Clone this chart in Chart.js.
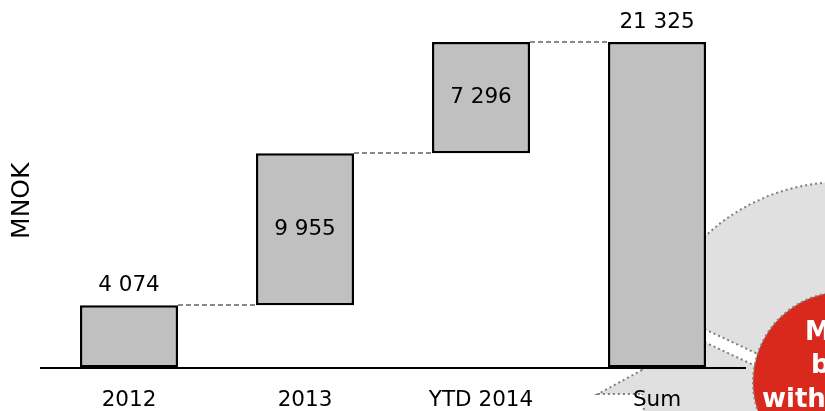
<!DOCTYPE html>
<html>
<head>
<meta charset="utf-8">
<script src="https://cdn.jsdelivr.net/npm/chart.js@4/dist/chart.umd.min.js"></script>
<style>
html, body { margin: 0; padding: 0; background: #fff; }
</style>
</head>
<body>
<canvas id="plot" width="825" height="411"></canvas>
<script>
const categories = ['2012', '2013', 'YTD 2014', 'Sum'];
const changes = [4074, 9955, 7296];
const total = 21325;
const badgeLines = ['More', 'booked', 'within'];

const FONT = '"DejaVu Sans", Verdana, sans-serif';

// 4 074 style thousands
function fmt(v) {
    return String(v).replace(/\B(?=(\d{3})+(?!\d))/g, ' ');
}

// floating [start, end] ranges for the waterfall
let running = 0;
const ranges = changes.map(v => {
    const r = [running, running + v];
    running += v;
    return r;
});
ranges.push([0, total]);
const values = changes.concat([total]);

function dotted(ctx) {
    ctx.strokeStyle = '#7f7f7f';
    ctx.lineWidth = 2;
    ctx.setLineDash([2, 3]);
}

const waterfallExtras = {
    id: 'waterfallExtras',
    beforeDraw(chart) {
        const ctx = chart.ctx;
        ctx.save();
        // grey halo behind the badge
        ctx.beginPath();
        ctx.arc(842, 382, 200, 0, Math.PI * 2);
        ctx.fillStyle = '#e0e0e0';
        ctx.fill();
        dotted(ctx);
        ctx.stroke();

        // pointer towards the Sum column
        ctx.setLineDash([]);
        ctx.beginPath();
        ctx.moveTo(598, 394);
        ctx.lineTo(690, 344);
        ctx.lineTo(690, 394);
        ctx.closePath();
        ctx.fillStyle = '#e0e0e0';
        ctx.fill();
        dotted(ctx);
        ctx.beginPath();
        ctx.moveTo(642, 370);
        ctx.lineTo(598, 394);
        ctx.lineTo(642, 394);
        ctx.stroke();

        // white band running into the badge
        ctx.setLineDash([]);
        ctx.beginPath();
        ctx.moveTo(700, 327);
        ctx.lineTo(762, 356);
        ctx.lineTo(760, 368);
        ctx.lineTo(700, 340);
        ctx.closePath();
        ctx.fillStyle = '#fff';
        ctx.fill();
        dotted(ctx);
        ctx.beginPath();
        ctx.moveTo(700, 327);
        ctx.lineTo(762, 356);
        ctx.moveTo(700, 340);
        ctx.lineTo(760, 368);
        ctx.stroke();

        // red badge
        ctx.setLineDash([]);
        ctx.beginPath();
        ctx.arc(843, 382, 90, 0, Math.PI * 2);
        ctx.fillStyle = '#d9291c';
        ctx.fill();
        dotted(ctx);
        ctx.stroke();

        ctx.setLineDash([]);
        ctx.fillStyle = '#fff';
        ctx.font = 'bold 26px ' + FONT;
        ctx.textAlign = 'left';
        ctx.textBaseline = 'alphabetic';
        const lx = [805, 811, 762];
        const ly = [340, 373, 407];
        badgeLines.forEach((t, i) => ctx.fillText(t, lx[i], ly[i]));
        ctx.restore();
    },
    afterDatasetsDraw(chart) {
        const ctx = chart.ctx;
        const meta = chart.getDatasetMeta(0);
        const yScale = chart.scales.y;
        ctx.save();

        // dashed connectors between the steps
        ctx.strokeStyle = '#8a8a8a';
        ctx.lineWidth = 2;
        ctx.setLineDash([5, 3]);
        for (let i = 0; i < meta.data.length - 1; i++) {
            const bar = meta.data[i];
            const next = meta.data[i + 1];
            const y = Math.round(yScale.getPixelForValue(ranges[i][1]));
            ctx.beginPath();
            ctx.moveTo(bar.x + bar.width / 2, y);
            ctx.lineTo(next.x - next.width / 2, y);
            ctx.stroke();
        }

        // value labels
        ctx.setLineDash([]);
        ctx.fillStyle = '#000';
        ctx.font = '21.5px ' + FONT;
        ctx.textAlign = 'center';
        ctx.textBaseline = 'middle';
        meta.data.forEach((bar, i) => {
            const top = Math.min(bar.y, bar.base);
            const bottom = Math.max(bar.y, bar.base);
            const outside = i === 0 || i === meta.data.length - 1;
            const y = outside ? top - 20 : (top + bottom) / 2;
            ctx.fillText(fmt(values[i]), bar.x, y);
        });
        ctx.restore();
    }
};

const ctx = document.getElementById('plot').getContext('2d');
const chart = new Chart(ctx, {
    type: 'bar',
    data: {
        labels: categories,
        datasets: [{
            data: ranges,
            backgroundColor: '#c0c0c0',
            borderColor: '#000',
            borderWidth: 2.5,
            borderSkipped: false,
            barPercentage: 0.557,
            categoryPercentage: 1
        }]
    },
    options: {
        responsive: false,
        animation: false,
        devicePixelRatio: 1,
        layout: { padding: { left: 3, right: 80, top: 34, bottom: 0 } },
        plugins: {
            legend: { display: false },
            tooltip: { enabled: false }
        },
        scales: {
            x: {
                grid: { display: false, drawTicks: true, tickLength: 22 },
                border: { display: true, color: '#000', width: 2 },
                ticks: {
                    color: '#000',
                    padding: 0,
                    font: { family: FONT, size: 21.5, lineHeight: 1 }
                }
            },
            y: {
                min: 0,
                max: 21850,
                grid: { display: false, drawTicks: false },
                border: { display: false },
                ticks: { display: false },
                title: {
                    display: true,
                    text: 'MNOK',
                    color: '#000',
                    font: { family: FONT, size: 25, lineHeight: 1.2 },
                    padding: { top: 4, bottom: 4 }
                }
            }
        }
    },
    plugins: [waterfallExtras]
});
</script>
</body>
</html>
